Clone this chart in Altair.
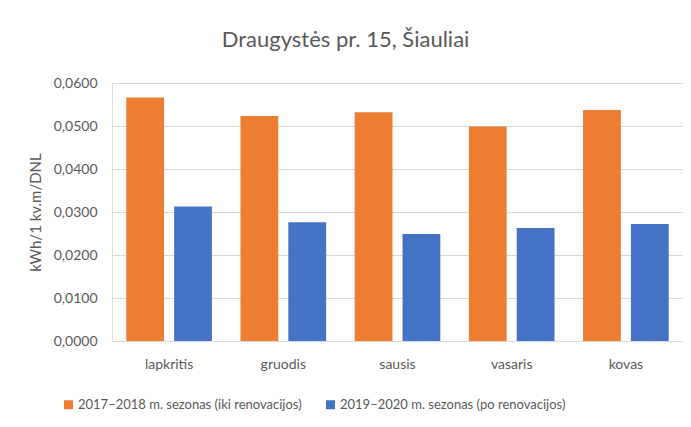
import altair as alt
import pandas as pd

months = ["lapkritis", "gruodis", "sausis", "vasaris", "kovas"]
series_names = ["2017–2018 m. sezonas (iki renovacijos)", "2019–2020 m. sezonas (po renovacijos)"]
before = [0.0566, 0.0523, 0.0532, 0.0499, 0.0537]
after = [0.0313, 0.0276, 0.0249, 0.0263, 0.0272]
colors = ["#ED7D31", "#4472C4"]

rows = []
for m, b, a in zip(months, before, after):
    rows.append({"month": m, "series": series_names[0], "value": b})
    rows.append({"month": m, "series": series_names[1], "value": a})
df = pd.DataFrame(rows)

FONT = "Lato"
GREY = "#595959"

chart = alt.Chart(df).mark_bar().encode(
    x=alt.X("month:N", sort=months,
            scale=alt.Scale(paddingInner=0.25, paddingOuter=0.125),
            axis=alt.Axis(title=None, labelAngle=0, ticks=False, labelPadding=16,
                          labelFontSize=14, labelColor=GREY, labelFont=FONT,
                          domainColor="#d9d9d9", domainWidth=1)),
    xOffset=alt.XOffset("series:N", sort=series_names,
                        scale=alt.Scale(paddingInner=0.21, paddingOuter=0)),
    y=alt.Y("value:Q", scale=alt.Scale(domain=[0, 0.06], nice=False),
            axis=alt.Axis(title="kWh/1 kv.m/DNL", values=[0, 0.01, 0.02, 0.03, 0.04, 0.05, 0.06],
                          labelExpr="replace(format(datum.value, '.4f'), '.', ',')",
                          ticks=False, domain=False, labelPadding=15,
                          labelFontSize=14, labelColor=GREY, labelFont=FONT,
                          titleFontSize=15, titleColor=GREY, titleFont=FONT,
                          titleFontWeight="normal", titlePadding=10,
                          gridColor="#d9d9d9", gridWidth=1)),
    color=alt.Color("series:N", sort=series_names,
                    scale=alt.Scale(domain=series_names, range=colors),
                    legend=alt.Legend(title=None, orient="none", direction="horizontal",
                                      legendX=-50, legendY=315, symbolType="square",
                                      symbolSize=81, symbolStrokeWidth=0, columnPadding=22,
                                      labelFontSize=13, labelColor=GREY, labelFont=FONT,
                                      labelOffset=3, labelLimit=400)),
).properties(
    width=571,
    height=258,
    title=alt.TitleParams("Draugystės pr. 15, Šiauliai", fontSize=22, color=GREY,
                          font=FONT, fontWeight="normal", anchor="middle", dx=-52, offset=24),
    autosize=alt.AutoSizeParams(type="none"),
    padding={"left": 104, "top": 75, "right": 0, "bottom": 78},
).configure_view(stroke=None).configure(background="white")

chart.save("out.html", embed_options={"renderer": "svg", "actions": False})
